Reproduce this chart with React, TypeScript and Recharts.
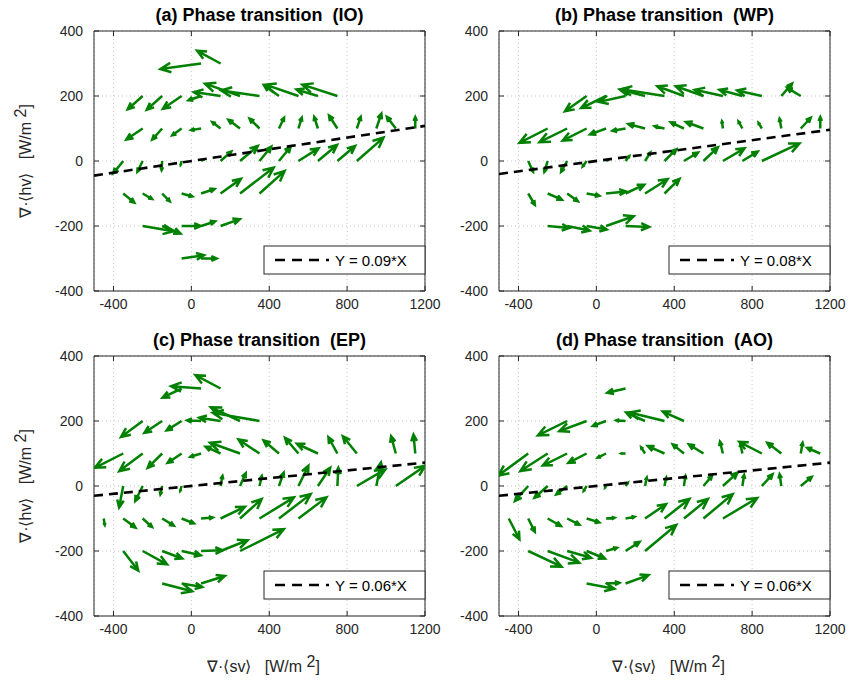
import React from 'react';
import {
  ScatterChart,
  Scatter,
  XAxis,
  YAxis,
  CartesianGrid,
  ReferenceLine,
  ReferenceArea,
} from 'recharts';

// each arrow: [x, y, u, v] -> tail at (x, y), head at (x + u, y + v)
type Arrow = [number, number, number, number];

const arrowsIO: Arrow[] = [
  [150, 300, -120, 39], [50, 300, -209, -17],
  [-250, 200, -77, -41], [-150, 200, -79, -42], [-50, 200, -96, -39], [50, 200, -65, -13],
  [150, 200, -137, 12], [250, 200, -180, 38], [350, 200, -197, 17], [450, 200, -77, 33],
  [550, 200, -170, 35], [650, 200, -110, 20], [750, 200, -180, 35],
  [-250, 100, -84, -34], [-150, 100, -51, -34], [-50, 100, -48, -21], [50, 100, -51, -5],
  [150, 100, -43, 20], [250, 100, -60, 27], [350, 100, -51, 30], [450, 100, 26, 33],
  [550, 100, 17, 33], [650, 100, -19, 36], [750, 100, -43, 40], [850, 100, 20, 36],
  [950, 100, 26, 46], [1050, 100, -46, 36], [1150, 100, 0, 35],
  [-350, 0, -51, -38], [-250, 0, -27, -33], [-150, 0, -3, -28], [-50, 0, -5, -12],
  [50, 0, 15, 5], [150, 0, 55, 29], [250, 0, 91, 46], [350, 0, 60, 44], [450, 0, 60, 44],
  [550, 0, 103, 39], [650, 0, 98, 49], [750, 0, 91, 46], [850, 0, 137, 72],
  [-350, -100, 57, -28], [-250, -100, 48, -17], [-150, -100, 39, -24], [-50, -100, 55, -9],
  [50, -100, 69, 14], [150, -100, 105, 45], [250, -100, 173, 80], [350, -100, 129, 69],
  [-250, -200, 159, -16], [-150, -200, 94, -23], [-50, -200, 98, 0], [50, -200, 72, 14],
  [150, -200, 99, 21],
  [-50, -300, 115, 10], [50, -300, 80, 0],
];

const arrowsWP: Arrow[] = [
  [-50, 200, -111, -47], [50, 200, -128, -37], [150, 200, -137, -18], [250, 200, -130, 20],
  [350, 200, -222, 21], [450, 200, -137, 30], [550, 200, -142, 30], [650, 200, -145, 19],
  [750, 200, -118, 19], [850, 200, -127, 17], [950, 200, 55, 38], [1050, 200, -70, 25],
  [-250, 100, -145, -44], [-150, 100, -142, -42], [-50, 100, -123, -37], [50, 100, -82, -18],
  [150, 100, -67, -7], [250, 100, -86, 14], [350, 100, -51, 7], [450, 100, -68, 19],
  [550, 100, -90, 20], [650, 100, -5, 22], [750, 100, -20, 22], [850, 100, -17, 17],
  [950, 100, -9, 30], [1050, 100, 51, 33], [1150, 100, 0, 35],
  [-350, 0, 25, -33], [-250, 0, -17, -33], [-150, 0, -31, -33], [-50, 0, -20, -17],
  [50, 0, 10, 3], [150, 0, 19, 15], [250, 0, 27, 26], [350, 0, 60, 36], [450, 0, 72, 26],
  [550, 0, 74, 42], [650, 0, 111, 39], [750, 0, 79, 29], [850, 0, 193, 54],
  [-350, -100, 34, -35], [-250, -100, 73, -19], [-150, -100, 55, -24], [-50, -100, 65, -7],
  [50, -100, 103, 6], [150, -100, 96, 27], [250, -100, 116, 44], [350, -100, 77, 45],
  [-250, -200, 111, -6], [-150, -200, 115, -14], [-50, -200, 103, -11], [50, -200, 142, 30],
  [150, -200, 121, -3],
];

const arrowsEP: Arrow[] = [
  [150, 300, -129, 41], [50, 300, -154, 7], [-50, 300, -98, -28],
  [-250, 200, -111, -49], [-150, 200, -91, -36], [-50, 200, -77, -29], [50, 200, -72, 2],
  [150, 200, -110, 10], [250, 200, -150, 42], [350, 200, -240, 25],
  [-350, 100, -146, -44], [-250, 100, -120, -54], [-150, 100, -74, -44], [-50, 100, -72, -29],
  [50, 100, -55, -10], [150, 100, -77, 21], [250, 100, -154, 33], [350, 100, -108, 43],
  [450, 100, -79, 40], [550, 100, -69, 48], [650, 100, -108, 30], [750, 100, -46, 50],
  [850, 100, -72, 53], [1050, 100, -24, 53], [1150, 100, -9, 58],
  [-350, 0, -21, -66], [-250, 0, -38, -46], [-150, 0, -9, -26], [-50, 0, -7, -15],
  [150, 0, 10, 31], [250, 0, 29, 39], [350, 0, 12, 31], [450, 0, 24, 41], [550, 0, 51, 62],
  [650, 0, 63, 56], [750, 0, 5, 56], [850, 0, 146, 51], [950, 0, 24, 72], [1050, 0, 151, 62],
  [-450, -100, 5, -20], [-350, -100, 63, -28], [-250, -100, 48, -26], [-150, -100, 60, -22],
  [-50, -100, 63, -15], [50, -100, 60, 3], [150, -100, 125, 36], [250, -100, 111, 60],
  [350, -100, 177, 65], [450, -100, 163, 75], [550, -100, 144, 65],
  [-350, -200, 77, -60], [-250, -200, 125, -41], [-150, -200, 103, -23], [-50, -200, 98, -13],
  [50, -200, 111, 2], [150, -200, 139, 33], [250, -200, 225, 67],
  [-150, -300, 154, -24], [-50, -300, 106, -11], [50, -300, 122, 23],
];

const arrowsAO: Arrow[] = [
  [150, 300, -94, -13],
  [-150, 200, -150, -44], [-50, 200, -140, -31], [50, 200, -68, -15], [150, 200, -48, 2],
  [250, 200, -97, 26], [350, 200, -180, 26], [450, 200, -109, 29],
  [-350, 100, -154, -68], [-250, 100, -140, -54], [-150, 100, -125, -37], [-50, 100, -94, -29],
  [50, 100, -43, -13], [150, 100, -22, 0], [250, 100, -20, 19], [350, 100, -86, 23],
  [450, 100, -58, 28], [550, 100, -75, 28], [650, 100, -15, 36], [750, 100, -10, 30],
  [850, 100, -116, 36], [950, 100, -72, 33], [1050, 100, 9, 33], [1150, 100, -67, 17],
  [-350, 0, -68, -46], [-250, 0, -68, -36], [-150, 0, -56, -26], [-50, 0, -15, -15],
  [50, 0, -5, -5], [150, 0, 12, 10], [250, 0, 9, 26], [350, 0, 9, 26], [450, 0, 7, 31],
  [550, 0, 44, 31], [650, 0, 75, 41], [750, 0, 9, 34], [850, 0, 55, 36], [950, 0, -9, 36],
  [1050, 0, 56, 28],
  [-450, -100, 55, -64], [-350, -100, 34, -41], [-250, -100, 68, -23], [-150, -100, 63, -19],
  [-50, -100, 65, -12], [50, -100, 43, 2], [150, -100, 46, 5], [250, -100, 108, 44],
  [350, -100, 128, 60], [450, -100, 123, 60], [550, -100, 150, 75], [650, -100, 176, 63],
  [-350, -200, 171, -48], [-250, -200, 162, -36], [-150, -200, 123, -21], [-50, -200, 94, -23],
  [50, -200, 56, 10], [150, -200, 72, 28], [250, -200, 160, 80],
  [-50, -300, 142, -16], [50, -300, 68, 2], [150, -300, 118, 26],
];

const panelArrows = [arrowsIO, arrowsWP, arrowsEP, arrowsAO];
const panelTitles = [
  '(a) Phase transition  (IO)',
  '(b) Phase transition  (WP)',
  '(c) Phase transition  (EP)',
  '(d) Phase transition  (AO)',
];
const fitSlopes = [0.09, 0.08, 0.06, 0.06];
const fitLabels = ['Y = 0.09*X', 'Y = 0.08*X', 'Y = 0.06*X', 'Y = 0.06*X'];

const xTicks = [-400, 0, 400, 800, 1200];
const yTicks = [-400, -200, 0, 200, 400];
const X_MIN = -500;
const X_MAX = 1200;
const Y_MIN = -400;
const Y_MAX = 400;

const GREEN = '#008000';
const AXIS = '#262626';
const FONT = '"Liberation Sans", Arial, Helvetica, sans-serif';

// plot area placement (top-left corner of each axes box)
const PLOT_W = 331;
const PLOT_H = 260;
const panelPos = [
  [94, 31],
  [499, 31],
  [94, 356],
  [499, 356],
];
const Y_AXIS_W = 60;
const M_LEFT = 34;
const M_RIGHT = 24;
const M_TOP = 31;
const X_AXIS_H = 30;

// inward tick marks, in data units (about 5 px)
const X_TICK_LEN = 16;
const Y_TICK_LEN = 26;

const ArrowShape = (props: any) => {
  const { x1, y1, x2, y2, clipPath } = props;
  const dx = x2 - x1;
  const dy = y2 - y1;
  const len = Math.hypot(dx, dy);
  if (!len) return <g />;
  const ux = dx / len;
  const uy = dy / len;
  const hl = Math.min(len * 0.34, 10.5);
  const hw = hl * 0.45;
  const bx = x2 - ux * hl;
  const by = y2 - uy * hl;
  const d =
    `M${x1},${y1}L${x2},${y2}` +
    `M${bx - uy * hw},${by + ux * hw}L${x2},${y2}L${bx + uy * hw},${by - ux * hw}`;
  return (
    <path
      d={d}
      clipPath={clipPath}
      stroke={GREEN}
      strokeWidth={2.5}
      fill="none"
      strokeLinecap="butt"
      strokeLinejoin="miter"
    />
  );
};

const Panel = ({ index }: { index: number }) => {
  const arrows = panelArrows[index];
  const k = fitSlopes[index];
  const [px, py] = panelPos[index];
  const width = M_LEFT + Y_AXIS_W + PLOT_W + M_RIGHT;
  const height = M_TOP + PLOT_H + X_AXIS_H;
  const tails = arrows.map(([x, y]) => ({ x, y }));
  const tick = { fill: AXIS, fontSize: 14, fontFamily: FONT };

  return (
    <div style={{ position: 'absolute', left: px - M_LEFT - Y_AXIS_W, top: py - M_TOP }}>
      <ScatterChart
        width={width}
        height={height}
        margin={{ top: M_TOP, right: M_RIGHT, bottom: 0, left: M_LEFT }}
      >
        <CartesianGrid stroke="#c8c8c8" strokeDasharray="1 3" />
        <XAxis
          type="number"
          dataKey="x"
          domain={[X_MIN, X_MAX]}
          ticks={xTicks}
          allowDataOverflow
          axisLine={false}
          tickLine={false}
          tickSize={0}
          tickMargin={8}
          height={X_AXIS_H}
          tick={tick}
        />
        <YAxis
          type="number"
          dataKey="y"
          domain={[Y_MIN, Y_MAX]}
          ticks={yTicks}
          allowDataOverflow
          axisLine={false}
          tickLine={false}
          tickSize={0}
          tickMargin={11}
          width={Y_AXIS_W}
          tick={tick}
        />
        <Scatter data={tails} shape={() => <g />} isAnimationActive={false} />
        {arrows.map(([x, y, u, v], i) => (
          <ReferenceLine
            key={i}
            segment={[
              { x, y },
              { x: x + u, y: y + v },
            ]}
            ifOverflow="hidden"
            shape={ArrowShape}
          />
        ))}
        <ReferenceLine
          segment={[
            { x: X_MIN, y: k * X_MIN },
            { x: X_MAX, y: k * X_MAX },
          ]}
          ifOverflow="hidden"
          stroke="#000"
          strokeWidth={2.6}
          strokeDasharray="9 6"
        />
        {xTicks.map((t) => (
          <ReferenceLine
            key={'bt' + t}
            segment={[
              { x: t, y: Y_MIN },
              { x: t, y: Y_MIN + X_TICK_LEN },
            ]}
            stroke={AXIS}
            strokeWidth={1}
          />
        ))}
        {xTicks.map((t) => (
          <ReferenceLine
            key={'tt' + t}
            segment={[
              { x: t, y: Y_MAX },
              { x: t, y: Y_MAX - X_TICK_LEN },
            ]}
            stroke={AXIS}
            strokeWidth={1}
          />
        ))}
        {yTicks.map((t) => (
          <ReferenceLine
            key={'lt' + t}
            segment={[
              { x: X_MIN, y: t },
              { x: X_MIN + Y_TICK_LEN, y: t },
            ]}
            stroke={AXIS}
            strokeWidth={1}
          />
        ))}
        {yTicks.map((t) => (
          <ReferenceLine
            key={'rt' + t}
            segment={[
              { x: X_MAX, y: t },
              { x: X_MAX - Y_TICK_LEN, y: t },
            ]}
            stroke={AXIS}
            strokeWidth={1}
          />
        ))}
        <ReferenceArea
          x1={X_MIN}
          x2={X_MAX}
          y1={Y_MIN}
          y2={Y_MAX}
          fill="none"
          fillOpacity={0}
          stroke={AXIS}
          strokeWidth={1}
          ifOverflow="visible"
        />
      </ScatterChart>
    </div>
  );
};

const Overlay = () => {
  const labelStyle: React.CSSProperties = { whiteSpace: 'pre' };
  return (
    <svg
      width={849}
      height={681}
      style={{ position: 'absolute', left: 0, top: 0, pointerEvents: 'none' }}
      fontFamily={FONT}
    >
      {panelPos.map(([px, py], i) => (
        <g key={i}>
          <text
            x={px + PLOT_W / 2}
            y={py - 10}
            textAnchor="middle"
            fontSize={18}
            fontWeight="bold"
            fill="#000"
            style={labelStyle}
          >
            {panelTitles[i]}
          </text>
          <rect
            x={px + 170}
            y={py + 215}
            width={PLOT_W - 170}
            height={28}
            fill="#fff"
            stroke={AXIS}
            strokeWidth={1}
          />
          <line
            x1={px + 181}
            x2={px + 235}
            y1={py + 229}
            y2={py + 229}
            stroke="#000"
            strokeWidth={2.6}
            strokeDasharray="10 7"
          />
          <text x={px + 241} y={py + 234.5} fontSize={15} fill="#000">
            {fitLabels[i]}
          </text>
        </g>
      ))}
      {[0, 1].map((c) => (
        <text
          key={'x' + c}
          x={panelPos[c][0] + PLOT_W / 2 + 4}
          y={672}
          textAnchor="middle"
          fontSize={16}
          fill={AXIS}
          style={labelStyle}
        >
          {'∇·⟨sv⟩   [W/m '}
          <tspan dy={-5}>2</tspan>
          <tspan dy={5}>]</tspan>
        </text>
      ))}
      {[0, 2].map((r) => {
        const cy = panelPos[r][1] + PLOT_H / 2;
        return (
          <text
            key={'y' + r}
            x={0}
            y={0}
            transform={`translate(31 ${cy}) rotate(-90)`}
            textAnchor="middle"
            fontSize={16}
            fill={AXIS}
            style={labelStyle}
          >
            {'∇·⟨hv⟩   [W/m '}
            <tspan dy={-5}>2</tspan>
            <tspan dy={5}>]</tspan>
          </text>
        );
      })}
    </svg>
  );
};

const App = () => (
  <div
    style={{
      position: 'absolute',
      left: 0,
      top: 0,
      width: 849,
      height: 681,
      background: '#fff',
      fontFamily: FONT,
    }}
  >
    {[0, 1, 2, 3].map((i) => (
      <Panel key={i} index={i} />
    ))}
    <Overlay />
  </div>
);

export default App;
